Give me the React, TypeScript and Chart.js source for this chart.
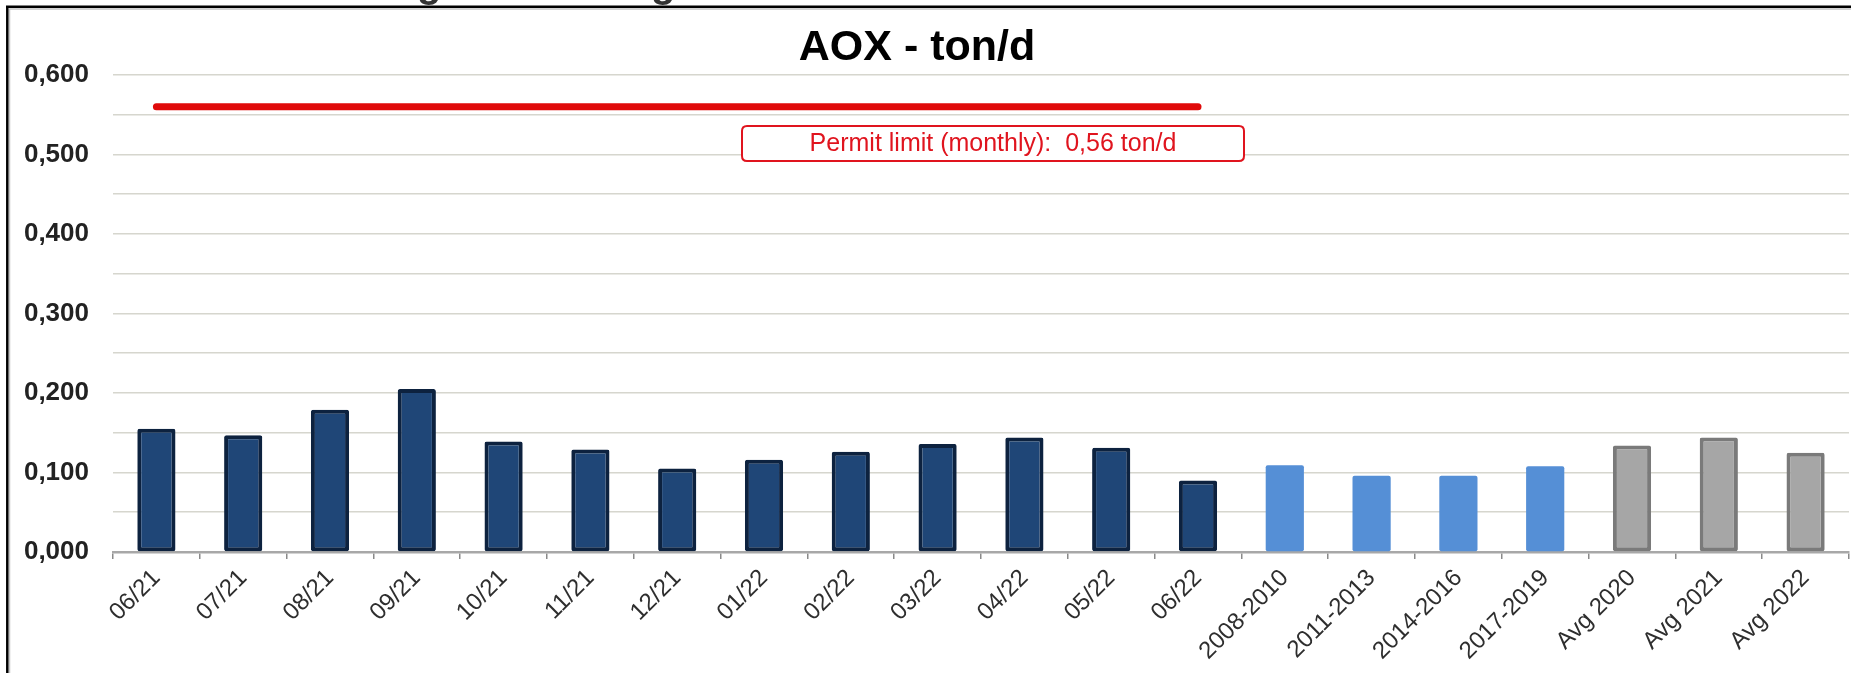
import React, { useEffect, useRef } from 'react';
import { Chart, registerables } from 'chart.js';

Chart.register(...registerables);

const TITLE = 'AOX - ton/d';
const ANNOTATION = 'Permit limit (monthly):  0,56 ton/d';
const HEADER_CLIPPED = ['g', 'g'];

const monthLabels = ['06/21', '07/21', '08/21', '09/21', '10/21', '11/21', '12/21', '01/22', '02/22', '03/22', '04/22', '05/22', '06/22'];
const periodLabels = ['2008-2010', '2011-2013', '2014-2016', '2017-2019'];
const averageLabels = ['Avg 2020', 'Avg 2021', 'Avg 2022'];

const monthValues = [0.155, 0.147, 0.179, 0.205, 0.139, 0.129, 0.105, 0.116, 0.126, 0.136, 0.144, 0.131, 0.090];
const periodValues = [0.109, 0.096, 0.096, 0.108];
const averageValues = [0.134, 0.144, 0.125];

const PERMIT_LIMIT = 0.56;
const Y_MIN = 0;
const Y_MAX = 0.6;
const Y_STEP = 0.05;

const W = 1851;
const H = 673;

export default function App() {
  const ref = useRef<HTMLCanvasElement | null>(null);

  useEffect(() => {
    if (!ref.current) return;
    const labels = [...monthLabels, ...periodLabels, ...averageLabels];
    const values = [...monthValues, ...periodValues, ...averageValues];
    const fills = [
      ...monthLabels.map(() => '#1f4677'),
      ...periodLabels.map(() => '#558fd6'),
      ...averageLabels.map(() => '#a6a6a6'),
    ];
    const borders = [
      ...monthLabels.map(() => '#0d223f'),
      ...periodLabels.map(() => '#558fd6'),
      ...averageLabels.map(() => '#7a7a7a'),
    ];
    const borderWidths = [
      ...monthLabels.map(() => 4),
      ...periodLabels.map(() => 0),
      ...averageLabels.map(() => 4),
    ];
    const permitLine = labels.map((_, i) => (i < monthLabels.length ? PERMIT_LIMIT : null));

    const decor = {
      id: 'decor',
      beforeDraw(chart: any) {
        const ctx = chart.ctx;
        ctx.save();
        ctx.fillStyle = '#ffffff';
        ctx.fillRect(0, 0, W, H);
        ctx.restore();
      },
      afterDatasetsDraw(chart: any) {
        const ctx = chart.ctx;
        ctx.save();
        // annotation box
        const bx = 742, by = 126, bw = 502, bh = 35, r = 5;
        ctx.beginPath();
        ctx.moveTo(bx + r, by);
        ctx.lineTo(bx + bw - r, by);
        ctx.quadraticCurveTo(bx + bw, by, bx + bw, by + r);
        ctx.lineTo(bx + bw, by + bh - r);
        ctx.quadraticCurveTo(bx + bw, by + bh, bx + bw - r, by + bh);
        ctx.lineTo(bx + r, by + bh);
        ctx.quadraticCurveTo(bx, by + bh, bx, by + bh - r);
        ctx.lineTo(bx, by + r);
        ctx.quadraticCurveTo(bx, by, bx + r, by);
        ctx.closePath();
        ctx.fillStyle = '#ffffff';
        ctx.fill();
        ctx.lineWidth = 2;
        ctx.strokeStyle = '#e0141e';
        ctx.stroke();
        ctx.fillStyle = '#e0141e';
        ctx.font = '25px "Liberation Sans", Arial, sans-serif';
        ctx.textAlign = 'center';
        ctx.textBaseline = 'middle';
        ctx.fillText(ANNOTATION, bx + bw / 2, by + bh / 2 + 1);

        // title
        ctx.fillStyle = '#000000';
        ctx.font = 'bold 43px "Liberation Sans", Arial, sans-serif';
        ctx.textAlign = 'center';
        ctx.textBaseline = 'alphabetic';
        ctx.fillText(TITLE, 917, 60);

        // clipped header text above the frame
        ctx.fillStyle = '#333333';
        ctx.font = 'bold 40px "Liberation Sans", Arial, sans-serif';
        ctx.textAlign = 'left';
        ctx.fillText(HEADER_CLIPPED[0], 417, -3);
        ctx.fillText(HEADER_CLIPPED[1], 651, -3);

        // frame
        ctx.strokeStyle = '#c4c4c4';
        ctx.lineWidth = 1.5;
        ctx.beginPath();
        ctx.moveTo(9, 9);
        ctx.lineTo(W, 9);
        ctx.moveTo(9.5, 9);
        ctx.lineTo(9.5, H);
        ctx.stroke();
        ctx.strokeStyle = '#000000';
        ctx.lineWidth = 2.5;
        ctx.beginPath();
        ctx.moveTo(6, 6.8);
        ctx.lineTo(W, 6.8);
        ctx.moveTo(7.3, 6);
        ctx.lineTo(7.3, H);
        ctx.stroke();
        ctx.restore();
      },
    };

    const chart = new Chart(ref.current, {
      type: 'bar',
      data: {
        labels,
        datasets: [
          {
            type: 'line',
            label: 'Permit limit',
            data: permitLine,
            borderColor: '#e00a0a',
            borderWidth: 7,
            borderCapStyle: 'round',
            pointRadius: 0,
            fill: false,
            spanGaps: false,
            order: 0,
          } as any,
          {
            type: 'bar',
            label: 'AOX',
            data: values,
            backgroundColor: fills,
            borderColor: borders,
            borderWidth: borderWidths,
            borderSkipped: false,
            borderRadius: 2,
            barPercentage: 0.44,
            categoryPercentage: 1,
            order: 1,
          } as any,
        ],
      },
      options: {
        responsive: false,
        animation: false,
        devicePixelRatio: 1,
        layout: { padding: { top: 75, right: 2, left: 0, bottom: 0 } },
        plugins: {
          legend: { display: false },
          title: { display: false },
          tooltip: { enabled: false },
        },
        scales: {
          x: {
            offset: true,
            grid: {
              display: true,
              drawOnChartArea: false,
              drawTicks: true,
              tickLength: 7,
              color: '#8a8a8a',
              lineWidth: 1.5,
              offset: true,
            },
            border: { display: true, color: '#a8a8a8', width: 2.5 },
            ticks: {
              autoSkip: false,
              maxRotation: 45,
              minRotation: 45,
              padding: 5,
              color: '#2e2e2e',
              font: { family: '"Liberation Sans", Arial, sans-serif', size: 24 },
            },
            afterFit(axis: any) {
              axis.height = 121;
            },
          },
          y: {
            min: Y_MIN,
            max: Y_MAX,
            ticks: {
              stepSize: Y_STEP,
              padding: 24,
              color: '#222222',
              font: { family: '"Liberation Sans", Arial, sans-serif', size: 26, weight: 'bold' },
              callback: (v: any) => {
                const n = Math.round(Number(v) * 1000);
                return n % 100 === 0 ? (n / 1000).toFixed(3).replace('.', ',') : '';
              },
            },
            grid: { color: '#d6d6ce', lineWidth: 1.6, drawTicks: false },
            border: { display: false },
            afterFit(axis: any) {
              axis.width = 113;
            },
          },
        },
      },
      plugins: [decor],
    });

    return () => chart.destroy();
  }, []);

  return (
    <div style={{ position: 'absolute', left: 0, top: 0, width: W, height: H, background: '#fff' }}>
      <canvas ref={ref} width={W} height={H} style={{ display: 'block', width: W, height: H }} />
    </div>
  );
}
